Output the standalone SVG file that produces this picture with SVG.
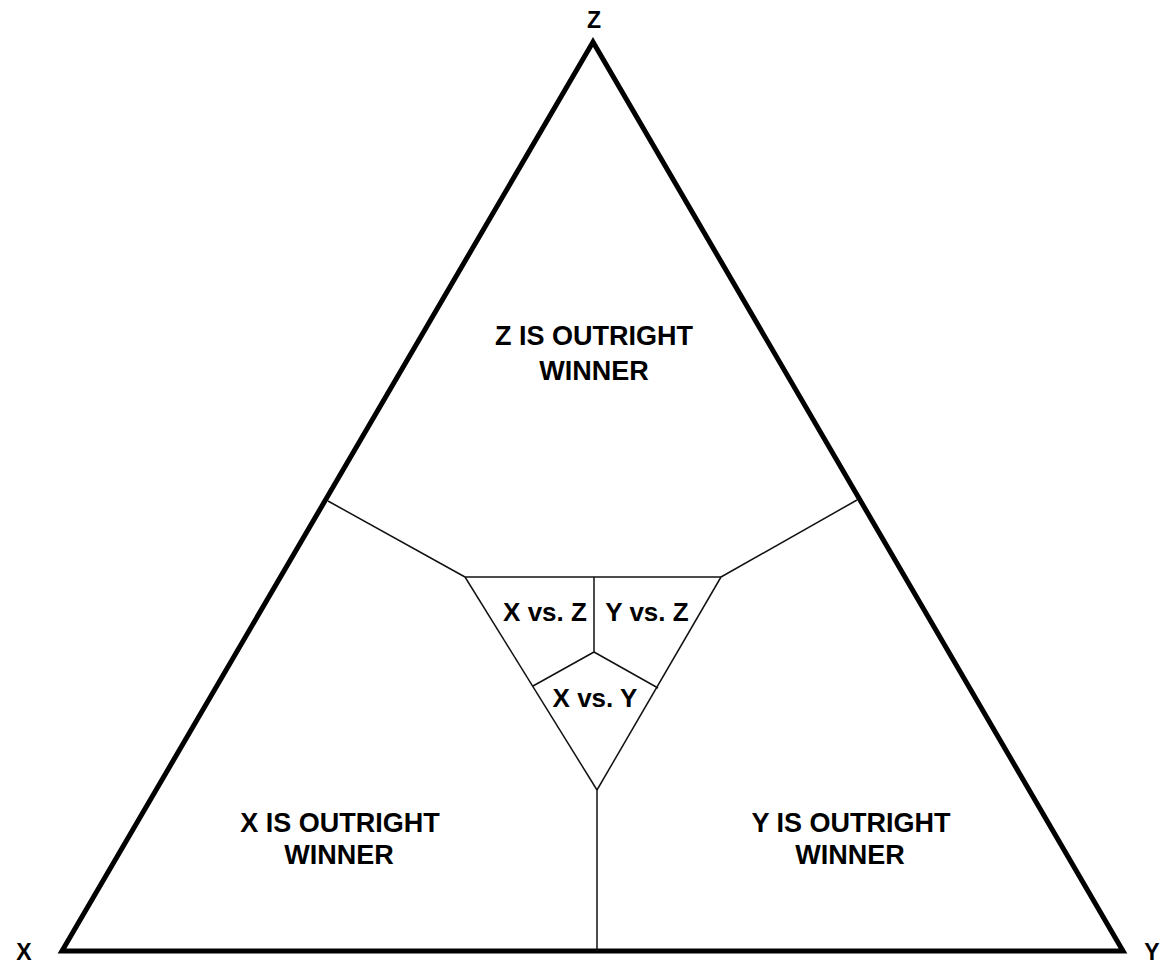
<svg xmlns="http://www.w3.org/2000/svg" width="1169" height="966" viewBox="0 0 1169 966">
<style>
.outer{fill:none;stroke:#000;stroke-width:5;stroke-linejoin:miter}
.thin{fill:none;stroke:#111;stroke-width:1.5}
.big{font-family:"Liberation Sans",Arial,sans-serif;font-weight:bold;font-size:27px;fill:#000;text-anchor:middle}
.mid{font-family:"Liberation Sans",Arial,sans-serif;font-weight:bold;font-size:26px;fill:#000;text-anchor:middle}
.corner{font-family:"Liberation Sans",Arial,sans-serif;font-weight:bold;font-size:23px;fill:#000;text-anchor:middle}
</style>
<rect width="1169" height="966" fill="#fff"/>
<g id="connectors">
<polygon class="outer" points="593,42 62,951 1123,951"/>
<line class="thin" x1="328" y1="501" x2="465" y2="577"/>
<line class="thin" x1="857" y1="500" x2="721" y2="577"/>
<line class="thin" x1="465" y1="577" x2="721" y2="577"/>
<line class="thin" x1="465" y1="577" x2="597" y2="790"/>
<line class="thin" x1="721" y1="577" x2="597" y2="790"/>
<line class="thin" x1="594" y1="577" x2="594" y2="652"/>
<line class="thin" x1="594" y1="652" x2="533" y2="686"/>
<line class="thin" x1="594" y1="652" x2="658" y2="688"/>
<line class="thin" x1="597" y1="790" x2="597" y2="951"/>
</g>
<g id="corner-z"><text class="corner" x="594" y="28">Z</text></g>
<g id="corner-x"><text class="corner" x="24" y="960">X</text></g>
<g id="corner-y"><text class="corner" x="1152" y="960">Y</text></g>
<g id="z-winner"><text class="big" x="594" y="345">Z IS OUTRIGHT</text><text class="big" x="594" y="380">WINNER</text></g>
<g id="x-winner"><text class="big" x="340" y="832">X IS OUTRIGHT</text><text class="big" x="339" y="864">WINNER</text></g>
<g id="y-winner"><text class="big" x="851" y="832">Y IS OUTRIGHT</text><text class="big" x="850" y="864">WINNER</text></g>
<g id="x-vs-z"><text class="mid" x="545" y="621">X vs. Z</text></g>
<g id="y-vs-z"><text class="mid" x="647" y="621">Y vs. Z</text></g>
<g id="x-vs-y"><text class="mid" x="595" y="707">X vs. Y</text></g>
</svg>
